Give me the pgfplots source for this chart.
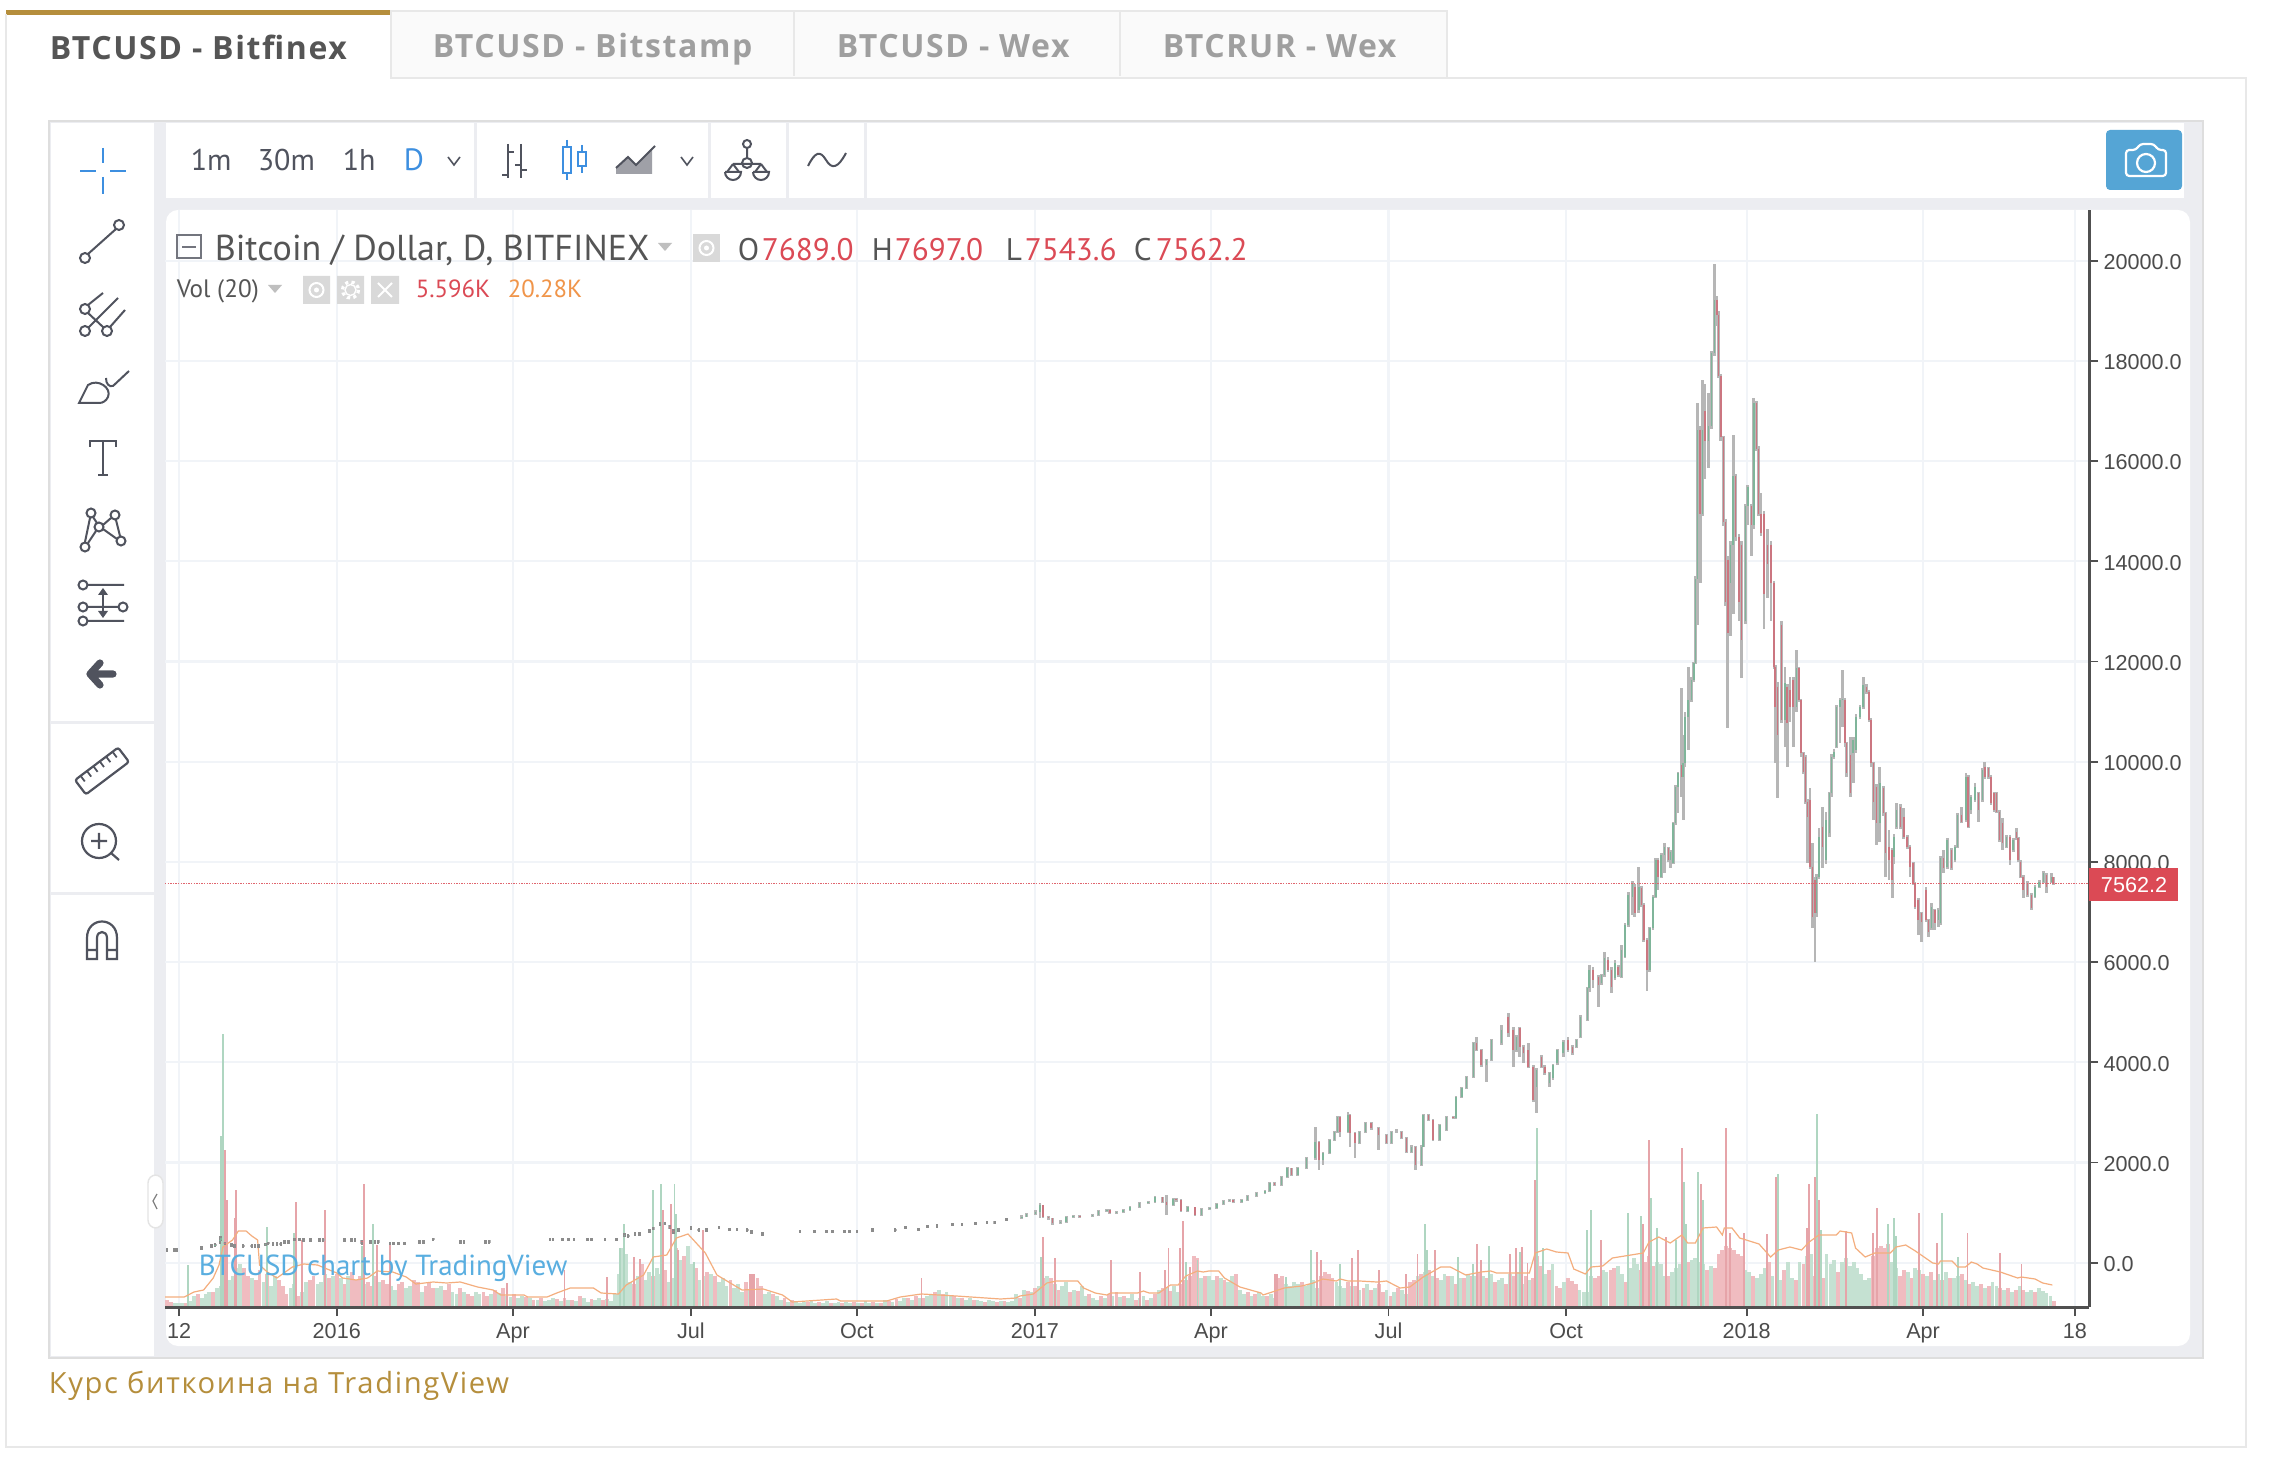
\documentclass[border=0pt]{standalone}
\usepackage{pgfplots}
\usepackage{pgfplotstable}
\usepackage{fontspec}
\pgfplotsset{compat=1.18}
\setmainfont{PT Sans}
\newfontfamily\uifont{PT Sans}
\newfontfamily\tabfont[LetterSpace=5]{Open Sans}
\newfontfamily\capfont[LetterSpace=5.5]{Open Sans}
\newfontfamily\tickfont{Liberation Sans}
\definecolor{panelgray}{HTML}{ECEDF1}
\definecolor{framegray}{HTML}{DEDEDE}
\definecolor{tabgray}{HTML}{E8E8E8}
\definecolor{gold}{HTML}{B58E3C}
\definecolor{icon}{HTML}{50535E}
\definecolor{txt}{HTML}{555555}
\definecolor{redt}{HTML}{DB4A55}
\definecolor{oranget}{HTML}{F0954A}
\definecolor{bluet}{HTML}{3D8FE0}
\definecolor{gridc}{HTML}{F1F4F8}
\definecolor{axisc}{HTML}{505050}
\definecolor{wick}{HTML}{B6B6B6}
\definecolor{wickdark}{HTML}{8C8C8C}
\definecolor{bodyg}{HTML}{7FB59A}
\definecolor{bodyr}{HTML}{CB7680}
\definecolor{volg}{HTML}{C5E1D2}
\definecolor{volr}{HTML}{F0BCC0}
\definecolor{spikeg}{HTML}{AFD6C1}
\definecolor{spiker}{HTML}{E6A4A9}
\definecolor{maline}{HTML}{F4AE7E}
\definecolor{wm}{HTML}{59AEE0}
\newcommand{\fs}[1]{\fontsize{#1}{#1}\selectfont}
\pgfplotstableread{
x o h l c
1 254 280 230 254
5 254 280 230 254
6 254 280 230 254
19 300 325 275 300
24 334 360 310 334
26 340 380 330 354
28.5 430 520 390 453
29 453 530 440 487
31 400 410 370 387
34.5 354 380 330 354
36 334 360 310 334
40.5 334 360 310 334
45 334 360 310 334
46.6 334 360 310 334
48.4 334 360 310 334
52 360 390 345 367
53.5 387 410 365 387
56 374 400 350 374
58 374 400 350 374
60 374 400 350 374
62 420 445 395 420
64 420 445 395 420
67 467 490 445 467
69.6 467 490 445 467
71.7 453 480 430 453
75.5 453 480 430 453
80 453 480 430 453
82 453 480 430 453
93 453 480 430 453
96.7 453 480 430 453
98.4 453 480 430 453
102 430 450 370 420
106.6 420 445 395 420
108.8 420 445 395 420
110.5 420 445 395 420
116.6 387 410 365 387
118.3 387 410 365 387
121 387 410 365 387
124 387 410 365 387
132 420 445 395 420
134 420 445 395 420
139 467 490 445 467
153 420 445 395 420
155 420 445 395 420
166 420 445 395 420
168 420 445 395 420
199.5 467 490 445 467
201 467 490 445 467
206 467 490 445 467
209 467 490 445 467
212 467 490 445 467
219 467 490 445 467
221 467 490 445 467
228 467 490 445 467
234 467 490 445 467
238 540 590 520 553
240 533 560 510 533
243.5 573 600 550 573
246 573 600 550 573
251 640 665 615 640
253 686 710 660 686
256.5 773 800 745 773
259 786 810 760 786
261.6 720 745 680 706
263.4 640 670 590 620
266 653 680 630 653
272.6 687 715 660 687
276.6 654 680 630 654
280.6 654 680 630 654
287 700 725 675 700
292.5 667 690 640 667
296.4 667 690 640 667
301.7 654 680 630 654
304 608 635 585 608
309.6 575 600 550 575
329 622 645 600 622
336.6 622 645 600 622
342.7 622 645 600 622
346 622 645 600 622
352 622 645 600 622
354.6 622 645 600 622
358.6 622 645 600 622
366.5 654 680 630 654
378.4 654 680 630 654
383.7 700 725 675 700
390.4 667 690 640 667
395 720 745 700 720
400 730 755 705 730
408 760 785 735 760
413 760 785 735 760
420 780 805 755 780
426 800 825 775 800
430 800 825 775 800
436 860 885 835 860
444 900 945 880 920
446.5 920 1000 905 973
451 973 1045 950 1020
453.4 1020 1200 887 1153
455 1153 1160 900 920
457.7 920 940 860 887
460 887 900 754 800
464 800 845 780 820
467 820 930 800 907
470.6 907 955 890 934
474 934 950 885 907
480.6 930 975 910 954
483.6 954 1055 940 1034
488 1034 1075 1020 1054
489.6 1054 1070 965 987
493 987 1040 970 1020
496.5 1020 1075 1000 1054
500 1054 1125 1035 1107
505 1107 1220 1090 1200
509.5 1200 1240 1180 1220
513 1220 1326 1200 1306
517 1306 1320 1200 1220
519 1220 1353 954 1150
522.4 1150 1290 1130 1273
524 1273 1285 1220 1253
526.4 1253 1265 1020 1040
530 1040 1130 1020 1107
533.7 1107 1120 930 954
537 954 1085 940 1067
541.4 1067 1110 1050 1093
545 1093 1190 1075 1173
548.4 1173 1250 1155 1233
551.5 1233 1270 1215 1253
553.5 1253 1265 1190 1206
558 1206 1270 1190 1253
561 1253 1350 1235 1333
565.6 1333 1415 1315 1399
570 1399 1460 1380 1439
572.5 1439 1620 1420 1599
575 1599 1615 1530 1552
578.6 1552 1735 1530 1718
581.5 1718 1905 1700 1885
583.8 1885 1900 1730 1752
587 1752 1905 1730 1885
591.5 1885 2105 1865 2084
596 2084 2716 2060 2417
598 2417 2430 1852 2051
600 2051 2210 1950 2184
603.6 2184 2470 2165 2450
606 2450 2635 2430 2616
607.6 2616 2925 2595 2902
608.8 2902 2920 2500 2616
613 2616 3015 2595 2949
614 2949 2970 2317 2583
616.6 2583 2610 2084 2383
619 2383 2635 2360 2616
622 2616 2805 2595 2783
625 2783 2800 2650 2683
628.7 2683 2705 2250 2550
633 2550 2570 2360 2383
635.6 2383 2635 2360 2616
638 2616 2660 2595 2616
640.8 2616 2635 2460 2483
643.3 2483 2500 2190 2217
646 2217 2340 2190 2317
648 2317 2335 1852 1951
651 1951 2340 1930 2317
652 2317 2975 2300 2949
654.6 2949 2970 2825 2849
657 2849 2870 2430 2450
660.6 2450 2770 2430 2749
664 2649 2935 2630 2915
667.5 2915 2935 2860 2882
669 2882 3335 2860 3314
672 3314 3500 3290 3481
674.4 3481 3735 3460 3713
678 3713 4400 3690 4379
679.6 4379 4511 4220 4245
682 4245 4270 3900 3946
684.8 3946 4070 3614 4046
687.4 4046 4470 4020 4445
692.6 4380 4746 4346 4646
696 4912 4979 4500 4579
698.6 4646 4700 3914 4247
700.3 4247 4550 4200 4512
702 4679 4712 4113 4313
704 4313 4350 3981 4180
706.4 4247 4380 3880 3914
709 3914 3950 3200 3249
710.7 3515 3880 2983 3847
713.3 4113 4147 3880 3914
715 3914 3950 3750 3781
717.3 3581 3800 3515 3781
719.3 3681 3970 3650 3947
721.4 3981 4270 3950 4247
724.5 4180 4440 4100 4413
727 4446 4512 4200 4247
729.3 4313 4340 4147 4180
731.4 4313 4470 4290 4446
733.5 4512 4945 4480 4912
737 4845 5500 4820 5477
738 5477 5943 5400 5843
740 5843 5910 5477 5644
742.8 5710 5750 5111 5544
744.4 5577 5770 5550 5744
746 5744 6209 5700 6076
747.8 6043 6100 5800 5843
749.6 5843 5900 5391 5511
751.3 5677 6043 5650 5976
753 5910 5950 5700 5744
754.7 5710 6342 5680 6243
756.5 6110 6780 6080 6741
758.2 6741 7400 6700 7340
760.4 7307 7626 6941 7573
761.6 7507 7550 6908 6974
763.7 7041 7906 6974 7507
765 7473 7520 7100 7141
766.3 7141 7180 6400 6442
768 6442 6480 5431 5843
769.4 5843 6700 5800 6675
771 6675 7340 6640 7307
772.5 7307 8070 7270 8039
773.7 8039 8070 7440 7706
775.3 7706 8170 7670 8139
777 8139 8371 7773 8305
779 8272 8300 8000 8039
780 8039 8230 7873 8205
781.5 7972 8800 7950 8771
782.7 8771 9540 8740 9502
784 9502 9800 8970 9769
785.8 9935 11465 9303 9702
786.7 9702 10534 8837 9968
787.6 9968 11000 9900 10900
789.3 10900 11898 10234 11232
791 11232 11700 11200 11631
792.2 11623 12000 11600 11967
793 11967 13700 11950 13647
794.2 13647 17162 12731 16627
795.5 16627 16700 13571 14946
796.8 14946 17620 14900 16627
798 17009 17544 15634 16398
799.8 16398 17353 15863 16703
801.4 16703 18200 16650 18155
802.9 18155 19927 18100 19225
804.2 19225 19300 18690 18919
805 18919 19000 17650 17697
806.2 17697 17735 16400 16474
807.7 16474 16500 14700 14793
808.7 14793 14850 13100 13189
809.8 14029 14100 10668 12578
811.3 13571 14400 12500 14335
812.6 14335 16512 12950 15710
813.8 15710 15750 14400 14488
815.6 14488 14550 12807 13189
816.9 14335 14400 11661 12425
818.9 12807 15150 12750 15099
820.2 15099 15519 14717 15481
822.2 15099 15150 14100 14717
823.3 14717 17253 14650 17162
824.8 17162 17200 16200 16245
825.8 16245 16300 14900 14946
827 14946 15366 14500 14564
828.6 14946 15000 12654 13342
830.4 14335 14641 13265 13953
832.2 14335 14411 12807 13571
833.7 13571 13600 11850 11890
834.4 11890 11931 9968 11099
835.5 11498 11600 9270 10534
837.7 12729 12800 10767 10833
839.4 10833 11898 10301 11565
840.6 11498 11560 9902 10767
842 11432 11698 10800 11099
843.7 11631 11698 10301 11099
845.5 11099 12230 11000 11864
846.7 11864 11900 11200 11232
847.7 11232 11260 10100 10168
849 10168 10200 9750 9802
850.1 10101 10130 9150 9203
851 9203 9250 7972 8904
852.4 9236 9469 7850 7906
853.8 7906 8371 6675 6908
855 7640 7700 6010 6974
855.8 6974 7750 6900 7706
857 7706 8671 7650 8505
859 8704 9103 7872 8305
860.7 8039 9003 7950 8837
862.4 8571 9400 8500 9369
863.6 9369 10150 9300 10101
864.8 10101 10250 10050 10201
866.2 10301 11140 10280 11099
868 11099 11270 10367 11232
869.3 11232 11831 10700 11250
870.5 11232 11270 10300 10367
871.4 10367 10400 9700 9769
873.4 10134 10500 9303 9369
874.8 10168 10500 9569 10434
876.2 10234 10950 10180 10900
878.3 10900 11130 10850 11099
880 11099 11698 11050 11532
881.7 11498 11550 11350 11399
883 11399 11430 10800 10833
884 10833 10870 9900 9968
885.2 9968 10000 8837 9203
886.9 9502 9550 8338 8771
888.6 8771 9902 8405 9569
890.4 9469 9520 8920 8970
891.6 8970 9000 7706 8172
893.3 8305 8638 7640 8039
895 8238 8280 7274 7640
895.9 8105 8550 7950 8505
897.3 8704 9170 8650 9037
899.4 9103 9150 8650 8704
901 8904 9070 8450 8505
902.8 8505 8540 8250 8305
904.2 8305 8340 7706 7906
905.9 7972 8000 7540 7573
906.8 7573 7600 7070 7107
908.5 7240 7270 6542 6841
910.2 6974 7000 6409 6808
912.5 7440 7507 6800 6841
913.9 6841 6870 6509 6608
915.4 6675 7174 6650 7107
917.1 7041 7070 6642 6775
918.9 6841 7080 6700 7041
920 6775 8110 6740 8072
921.5 8072 8238 7773 7873
923.5 7906 8470 7850 8438
925.8 8238 8280 7830 7873
927.5 8039 8340 8000 8305
928.9 8305 8970 8270 8937
931 8937 9103 8770 8804
933.2 8837 9769 8800 9702
934.4 9702 9740 8670 8704
935.8 9037 9340 8950 9303
937.9 9236 9569 9200 9502
939.6 9369 9400 8804 9037
941.8 9236 9870 9200 9835
943 9902 10001 9650 9702
944.8 9868 9900 9650 9702
946.2 9702 9730 9130 9170
947.7 9369 9400 9000 9037
949.1 9369 9400 8970 9003
950.5 9003 9030 8400 8438
952.2 8771 8870 8238 8372
954.3 8305 8540 8270 8505
956 8505 8540 7939 8039
957.7 8238 8470 8200 8438
959.5 8604 8671 8440 8471
960.3 8471 8500 8000 8039
961.5 8006 8040 7670 7706
962.9 7706 7740 7274 7440
965 7573 7610 7300 7340
967.2 7340 7370 7040 7074
969 7307 7540 7270 7507
971.2 7507 7640 7470 7606
973.3 7606 7810 7570 7773
975 7740 7780 7374 7507
977.6 7606 7786 7570 7706
978.4 7689 7697 7543.6 7562.2
}\candles
\pgfplotstableread{
v
-6
-4
3
3
3
-3
5
10
-12
8
12
14
-14
18
20
-28
26
30
38
42
-38
-30
28
-26
-36
24
-32
20
30
-26
-20
-12
18
22
-10
14
24
-26
-30
22
24
32
-28
30
-32
28
-22
30
-34
-26
-30
22
-24
-20
-30
24
-26
-22
20
16
-22
-24
18
20
-26
-24
14
-20
-24
-18
18
20
-16
-22
14
12
-18
14
-12
-10
14
12
-14
-10
12
-16
13
-18
10
9
-12
8
10
-9
8
-6
6
-8
5
6
8
-7
5
-8
6
-6
5
-10
8
4
-7
6
8
-6
7
5
12
32
58
52
24
-22
30
-42
26
34
-30
38
32
-36
24
28
-58
46
-50
60
42
-38
26
30
-34
32
-30
24
28
20
-26
18
22
14
-24
16
-28
-28
-20
12
14
-12
10
6
-8
4
-6
5
3
4
-4
6
3
-4
3
5
-3
3
4
-3
4
3
-4
3
-3
5
3
-4
3
-3
6
-5
4
-7
5
8
-8
6
-10
8
-8
10
12
-14
16
-12
14
10
-10
8
-8
6
8
-6
6
5
-4
6
5
-4
5
-5
4
5
12
-8
16
-15
14
-18
20
-28
30
-28
22
-16
20
24
-14
16
-15
20
10
-12
8
6
-10
8
-12
10
-14
9
-10
8
12
-6
8
10
-6
8
-12
16
-18
18
-15
20
14
-22
-26
-30
-50
-48
28
-30
30
26
-30
28
-26
24
30
-32
16
12
-14
10
-12
14
10
-10
12
8
-28
-30
22
20
24
22
-24
20
22
26
18
-30
-34
-32
-28
24
20
18
-24
20
-20
16
-18
22
-16
18
-22
-14
16
-10
14
-18
16
12
-24
-26
30
-32
34
-36
30
-28
26
32
-30
30
-22
28
-28
32
-30
30
-34
30
-28
32
-24
26
28
-22
32
-30
34
22
-30
26
-28
-50
-40
32
-36
42
-20
-18
24
-28
-25
-22
16
14
14
30
-28
-30
36
34
-36
-38
40
32
-24
38
48
42
-36
-44
-50
-40
44
42
30
-30
34
38
42
40
-44
46
48
44
42
-36
40
-38
-52
-56
-60
-58
-56
-52
-50
36
34
-30
28
32
38
-44
30
-32
26
-36
44
28
-26
44
-42
50
52
-30
48
-28
52
42
46
-34
44
48
40
44
38
32
26
28
-50
-58
-60
-58
-62
44
38
-30
-36
34
-28
38
36
-32
30
-34
26
32
-26
34
-28
28
30
-32
26
-22
24
20
-22
18
-20
24
20
-18
16
-18
14
-16
20
-16
14
16
-14
18
15
13
10
-5
}\basevol
\pgfplotsset{chart/.style={
  scale only axis, width=481pt, height=274.25pt,
  at={(41.25pt,-326.75pt)}, anchor=south west,
  xmin=0, xmax=997, clip=true}}
\begin{document}
\begin{tikzpicture}
\useasboundingbox (0,0) rectangle (567.5pt,-368.5pt);
\begin{scope}[x=0.25pt,y=-0.25pt]
\fill[white] (0,0) rectangle (2270,1474);
% outer frame and tabs
\draw[tabgray,line width=.6pt] (6,78) rectangle (2246,1447);
\fill[white] (7,14) rectangle (391,82);
\fill[gold] (6,10) rectangle (391,15);
\draw[tabgray,line width=.6pt] (6,80) -- (6,14);
\draw[tabgray,line width=.6pt,fill=gray!4] (391,78) -- (391,11) -- (1447,11) -- (1447,78) -- cycle;
\draw[tabgray,line width=.5pt] (794,11) -- (794,76) (1120,11) -- (1120,76);
\node[anchor=base west,inner sep=0,text=txt] at (49,60) {\tabfont\bfseries\fs{8pt}BTCUSD - Bitfinex};
\node[anchor=base west,inner sep=0,text=gray!75] at (432,58) {\tabfont\bfseries\fs{8pt}BTCUSD - Bitstamp};
\node[anchor=base west,inner sep=0,text=gray!75] at (836,58) {\tabfont\bfseries\fs{8pt}BTCUSD - Wex};
\node[anchor=base west,inner sep=0,text=gray!75] at (1162,58) {\tabfont\bfseries\fs{8pt}BTCRUR - Wex};
% widget
\fill[panelgray] (49,121) rectangle (2203,1358);
\draw[framegray,line width=.7pt] (49,121) rectangle (2203,1358);
\fill[white] (51,123) rectangle (154,721);
\fill[white] (51,724) rectangle (154,892);
\fill[white] (51,895) rectangle (154,1356);
\fill[white] (166,123) rectangle (474,198);
\fill[white] (477,123) rectangle (708,198);
\fill[white] (711,123) rectangle (786,198);
\fill[white] (789,123) rectangle (864,198);
\fill[white] (867,123) rectangle (2184,198);
\fill[white,rounded corners=3pt] (166,210) rectangle (2190,1346);
% toolbar text
\node[anchor=base west,inner sep=0,text=icon] at (190,171) {\uifont\fs{7.5pt}1m};
\node[anchor=base west,inner sep=0,text=icon] at (257,171) {\uifont\fs{7.5pt}30m};
\node[anchor=base west,inner sep=0,text=icon] at (342,171) {\uifont\fs{7.5pt}1h};
\node[anchor=base west,inner sep=0,text=bluet] at (403,171) {\uifont\fs{7.7pt}D};
\draw[icon,line width=.4pt] (448,157) -- (454,165) -- (460,157) (681,157) -- (687,165) -- (693,157);
% bar icon
\draw[icon,line width=.6pt] (502,175) -- (508,175) (508,144) -- (508,178) (508,152) -- (514,152) (521,144) -- (521,178) (515,165) -- (521,165) (521,170) -- (527,170);
% candle icon
\draw[bluet,line width=.6pt] (567,140) -- (567,180) (582,145) -- (582,173);
\draw[bluet,fill=white,line width=.6pt] (563,147) rectangle (571,173) (578,152) rectangle (586,166);
% area icon
\fill[icon!55] (616,174) -- (616,168) -- (628,157) -- (636,165) -- (652,148) -- (652,174) -- cycle;
\draw[icon,line width=.5pt] (616,168) -- (628,157) -- (636,165) -- (655,146);
% scale icon
\draw[icon,line width=.5pt] (747,148) -- (747,158) (733,164) -- (761,164) (747,144) circle (4) (747,163) circle (5);
\draw[icon,line width=.5pt] (733,164) -- (727,172) (733,164) -- (739,172) (761,164) -- (755,172) (761,164) -- (767,172);
\draw[icon,line width=.5pt] (725,172) -- (741,172) arc[start angle=0,end angle=180,radius=8];
\draw[icon,line width=.5pt] (753,172) -- (769,172) arc[start angle=0,end angle=180,radius=8];
% wave icon
\draw[icon,line width=.5pt] (808,166) .. controls (815,152) and (820,150) .. (826,160) .. controls (832,170) and (838,168) .. (846,153);
% camera
\fill[fill=wm!95!black,rounded corners=1pt] (2106,130) rectangle (2182,190);
\draw[white,line width=.55pt,rounded corners=.8pt] (2126,150) -- (2136,150) -- (2140,144) -- (2154,144) -- (2158,150) -- (2166,150) -- (2166,176) -- (2126,176) -- cycle;
\draw[white,line width=.55pt] (2146,163) circle (9);
% left toolbar icons
\draw[bluet,line width=.6pt] (103,148) -- (103,163) (103,177) -- (103,194) (80,171) -- (96,171) (110,171) -- (126,171);
\draw[icon,line width=.5pt] (119,225) circle (5) (85,258) circle (5) (116,229) -- (88,254);
\draw[icon,line width=.5pt] (85,309) circle (5) (85,331) circle (5) (107,331) circle (5) (88,305) -- (103,293) (88,313) -- (103,327) (89,327) -- (118,298) (110,327) -- (125,310);
\draw[icon,line width=.5pt] (79,403) -- (88,385) .. controls (98,378) and (112,388) .. (108,397) .. controls (106,401) and (103,403) .. (99,403) -- cycle;
\draw[icon,line width=.5pt] (106,378) .. controls (106,384) and (109,387) .. (113,386) -- (129,371);
\draw[icon,line width=.55pt] (90,447) -- (90,441) -- (116,441) -- (116,447) (103,441) -- (103,475) (98,475) -- (108,475);
\draw[icon,line width=.5pt] (91,513) circle (4.5) (115,515) circle (4.5) (99,527) circle (4.5) (85,547) circle (4.5) (121,541) circle (4.5);
\draw[icon,line width=.5pt] (90,518) -- (85,542) (93,517) -- (97,523) (96,531) -- (88,543) (103,525) -- (111,518) (103,529) -- (117,539) (116,520) -- (120,536);
\draw[icon,line width=.5pt] (83,585) circle (4.5) (83,607) circle (4.5) (83,621) circle (4.5) (123,607) circle (4.5) (88,585) -- (124,585) (88,607) -- (118,607) (88,621) -- (124,621);
\draw[icon,line width=.5pt] (103,592) -- (103,615);
\fill[icon] (103,588) -- (108,595) -- (98,595) -- cycle (103,618) -- (108,611) -- (98,611) -- cycle;
\draw[icon,line width=1.8pt,line cap=round,line join=round] (113,674) -- (91,674) (100,663) -- (90,674) -- (100,685);
\begin{scope}[shift={(102,771)},rotate=-37,yscale=1]
\draw[icon,line width=.55pt,rounded corners=.6pt,rotate=74] (-27,-9) rectangle (27,9);
\foreach \t in {-20,-12,-4,4,12,20} \draw[icon,line width=.45pt,rotate=74] (\t,-9) -- (\t,-2);
\end{scope}
\draw[icon,line width=.55pt] (99,841) circle (17) (111,853) -- (119,860) (91,841) -- (107,841) (99,833) -- (99,849);
\draw[icon,line width=.55pt] (87,959) -- (87,938) .. controls (87,916) and (117,916) .. (117,938) -- (117,959) -- (107,959) -- (107,938) .. controls (107,930) and (97,930) .. (97,938) -- (97,959) -- cycle (87,950) -- (97,950) (107,950) -- (117,950);
% collapse handle
\draw[framegray!80,fill=white,line width=.35pt,rounded corners=2pt] (148,1175) rectangle (163,1228);
\draw[gray,line width=.3pt] (157,1194) -- (153,1201) -- (157,1209);
\end{scope}
% ---- gridlines and axes
\begin{axis}[chart,
  ymin=-884, ymax=21012, scaled ticks=false,
  axis x line*=bottom, axis y line*=right, axis line style={axisc,line width=.75pt,-},
  xtick={7.3,89,180.3,272.5,358.5,450.8,542,634,726,819.6,911,989.6},
  xticklabels={12,2016,Apr,Jul,Oct,2017,Apr,Jul,Oct,2018,Apr,18},
  ytick={0,2000,4000,6000,8000,10000,12000,14000,16000,18000,20000},
  yticklabels={0.0,2000.0,4000.0,6000.0,8000.0,10000.0,12000.0,14000.0,16000.0,18000.0,20000.0},
  xmajorgrids, ymajorgrids,
  major grid style={gridc,line width=.55pt},
  tick align=outside, major tick length=2.25pt,
  tick style={axisc,line width=.45pt},
  xticklabel style={font=\tickfont\fs{5.4pt},text=axisc!95!black,yshift=-.6pt,inner sep=1pt},
  yticklabel style={font=\tickfont\fs{5.4pt},text=axisc!95!black,anchor=west,xshift=.2pt,yshift=-.35pt,inner sep=1pt},
]
\end{axis}
% ---- volume (height units: one unit is one pixel of the reference, about 0.85K BTC)
\begin{axis}[chart, hide axis, ymin=-1, ymax=1096]
\addplot[ycomb,mark=none,volg,line width=.95pt] table[x index=0,y index=0,x expr=\coordindex*2+1,y expr={max(\thisrow{v},0)}] {\basevol};
\addplot[ycomb,mark=none,volr,line width=.95pt] table[x index=0,y index=0,x expr=\coordindex*2+1,y expr={max(-\thisrow{v},0)}] {\basevol};
\addplot[ycomb,mark=none,spikeg,line width=.48pt] coordinates {(12,41)(29,170)(30,272)(53,79)(67,73)(102,60)(108,82)(236,58)(238,82)(253,116)(257,122)(264,122)(265,92)(274,44)(454,49)(529,44)(535,46)(581,29)(594,56)(609,42)(653,82)(654,56)(670,49)(678,42)(686,60)(702,54)(711,178)(714,58)(737,76)(739,96)(758,93)(765,90)(770,108)(773,78)(783,66)(787,124)(788,82)(794.5,134)(797,106)(836,132)(856,192)(858,76)(893,82)(896,88)(897,70)(921,93)(929,49)};
\addplot[ycomb,mark=none,spiker,line width=.48pt] coordinates {(31,156)(32,106)(36,88)(37,116)(68,104)(71,66)(83,96)(103,122)(110,61)(116.6,61)(177,23)(207,36)(229,29)(243,49)(246,47)(258,96)(262,102)(266,56)(279,76)(303,32)(304,32)(305,32)(392,28)(455,69)(461,48)(490,46)(505,34)(518,36)(520,58)(526,58)(527.5,85)(531,39)(575,32)(576,32)(597,54)(599,46)(615,48)(618,56)(629,36)(643,32)(649,52)(658,56)(680,62)(682,46)(697,52)(700,58)(703,59)(706,43)(710,126)(744,66)(766,82)(769,166)(778,69)(786,158)(796,122)(809,178)(811,73)(818,73)(830,72)(835,129)(851,78)(852,122)(855,129)(857,106)(871,75)(885,73)(887,98)(909,93)(918,63)(934,73)(951,53)(962,42)};
\addplot[maline,line width=.3pt,mark=none] coordinates {
(0,9)(10,9)(15,14)(20,16)(25,28)(28,41)(30,59)(35,66)(38,75)(42,75)(45,70)(48,66)(49,41)(53,34)(58,28)(66,39)(72,42)(79,41)(89,33)(92,28)(99,26)(105,28)(110,35)(118,34)(125,29)(130,22)(139,24)(146,23)(153,24)(162,19)(170,16)(174,11)(186,11)(188,9)(198,9)(203,13)(210,18)(222,18)(226,13)(235,12)(239,21)(248,31)(253,49)(260,51)(265,68)(271,72)(280,53)(286,31)(299,16)(310,17)(320,11)(325,4)(348,7)(350,5)(374,5)(381,9)(392,12)(410,10)(433,7)
(441,8)(443,10)(450,12)(457,23)(462,25)(473,25)(476,18)(482,13)(488,11)(490,13)(504,13)(507,15)(510,13)(515,13)(521,21)(525,21)(529,30)(535,35)(538,34)(541,35)(546,35)(549,28)(557,19)(568,13)(569,11)(580,18)(589,20)(595,23)(600,27)(607,25)(609,27)(613,25)(619,25)(628,24)(633,25)(640,18)(645,19)(652,29)(661,39)(666,39)(674,31)(682,34)(687,35)(690,33)(702,33)
(707,33)(710,53)(716,57)(721,54)(727,53)(730,37)(736,32)(739,39)(745,40)(750,48)(766,53)(769,64)(774,69)(780,63)(786,71)(789,63)(793,63)(797,78)(804,79)(807,71)(808,78)(812,78)(816,68)(826,62)(832,49)(836,56)(842,59)(848,56)(852,64)(857,71)(866,71)(868,75)(874,73)(876,58)(881,49)(886,53)(894,53)(897,59)(902,61)(907,55)(916,43)(919,42)(920,45)(926,45)(929,39)(933,39)(936,44)(939,42)(942,38)(951,34)(960,28)(962,29)(969,27)(973,23)(978,21)};
\end{axis}
% ---- price
\begin{axis}[chart, hide axis, ymin=-884, ymax=21012]
\addplot[draw=none,mark=none,forget plot,error bars/.cd,y dir=both,y explicit,error mark=none,error bar style={wick,line width=.68pt}]
 table[x=x,y=c,y error plus expr=\thisrow{h}-\thisrow{c},y error minus expr=\thisrow{c}-\thisrow{l}] {\candles};
\addplot[draw=none,mark=none,forget plot,restrict x to domain=0:440,error bars/.cd,y dir=both,y explicit,error mark=none,error bar style={wickdark,line width=.62pt}]
 table[x=x,y=c,y error plus expr=\thisrow{h}-\thisrow{c}+12,y error minus expr=\thisrow{c}-\thisrow{l}+12] {\candles};
\addplot[draw=none,mark=none,forget plot,error bars/.cd,y dir=plus,y explicit,error mark=none,error bar style={bodyg,line width=.38pt}]
 table[x=x,y=o,y error plus expr={max(\thisrow{c}-\thisrow{o},0)},y error minus expr=0] {\candles};
\addplot[draw=none,mark=none,forget plot,error bars/.cd,y dir=minus,y explicit,error mark=none,error bar style={bodyr,line width=.38pt}]
 table[x=x,y=o,y error minus expr={max(\thisrow{o}-\thisrow{c},0)},y error plus expr=0] {\candles};
\addplot[redt!85,line width=.3pt,dash pattern=on .35pt off .3pt,mark=none] coordinates {(0,7562.2)(997,7562.2)};
\end{axis}
\begin{scope}[x=0.25pt,y=-0.25pt]
% legend
\draw[icon!80,line width=.35pt] (177,235) rectangle (201,258) (182,247) -- (196,247);
\node[anchor=base west,inner sep=0,text=txt] at (214,261) {\uifont\fs{9pt}Bitcoin / Dollar, D, BITFINEX};
\fill[gray!50] (658,243) -- (672,243) -- (665,251) -- cycle;
\fill[gray!30] (693,234) rectangle (720,262);
\draw[white,line width=.5pt] (706.5,248) circle (7);
\fill[white] (706.5,248) circle (2.5);
\node[anchor=base west,inner sep=0,text=txt] at (737,261) {\uifont\fs{7.8pt}O};
\node[anchor=base west,inner sep=0,text=redt] at (761,261) {\uifont\fs{7.8pt}7689.0};
\node[anchor=base west,inner sep=0,text=txt] at (871,261) {\uifont\fs{7.8pt}H};
\node[anchor=base west,inner sep=0,text=redt] at (894,261) {\uifont\fs{7.8pt}7697.0};
\node[anchor=base west,inner sep=0,text=txt] at (1005,261) {\uifont\fs{7.8pt}L};
\node[anchor=base west,inner sep=0,text=redt] at (1024,261) {\uifont\fs{7.8pt}7543.6};
\node[anchor=base west,inner sep=0,text=txt] at (1133,261) {\uifont\fs{7.8pt}C};
\node[anchor=base west,inner sep=0,text=redt] at (1155,261) {\uifont\fs{7.8pt}7562.2};
\node[anchor=base west,inner sep=0,text=txt] at (176,298) {\uifont\fs{6.3pt}Vol (20)};
\fill[gray!50] (268,285) -- (282,285) -- (275,293) -- cycle;
\fill[gray!30] (303,276) rectangle (330,304) (337,276) rectangle (364,304) (371,276) rectangle (399,304);
\draw[white,line width=.5pt] (316.5,290) circle (7) (378,283) -- (392,297) (392,283) -- (378,297);
\draw[white,line width=.35pt] (350.5,290) circle (5.5);
\draw[white,line width=.8pt,dash pattern=on .8pt off .8pt] (350.5,290) circle (8);
\fill[white] (316.5,290) circle (2.5);
\node[anchor=base west,inner sep=0,text=redt] at (415,298) {\uifont\fs{6.2pt}5.596K};
\node[anchor=base west,inner sep=0,text=oranget] at (507,298) {\uifont\fs{6.2pt}20.28K};
% watermark, price tag, caption
\node[anchor=base west,inner sep=0,text=wm] at (198,1275) {\uifont\fs{7.25pt}BTCUSD chart by TradingView};
\fill[redt] (2089,868) rectangle (2178,901);
\node[anchor=center,inner sep=0,text=white] at (2134,885) {\tickfont\fs{5.4pt}7562.2};
\node[anchor=base west,inner sep=0,text=gold] at (48,1393) {\capfont\fs{7.3pt}Курс биткоина на TradingView};
\end{scope}
\end{tikzpicture}
\end{document}
